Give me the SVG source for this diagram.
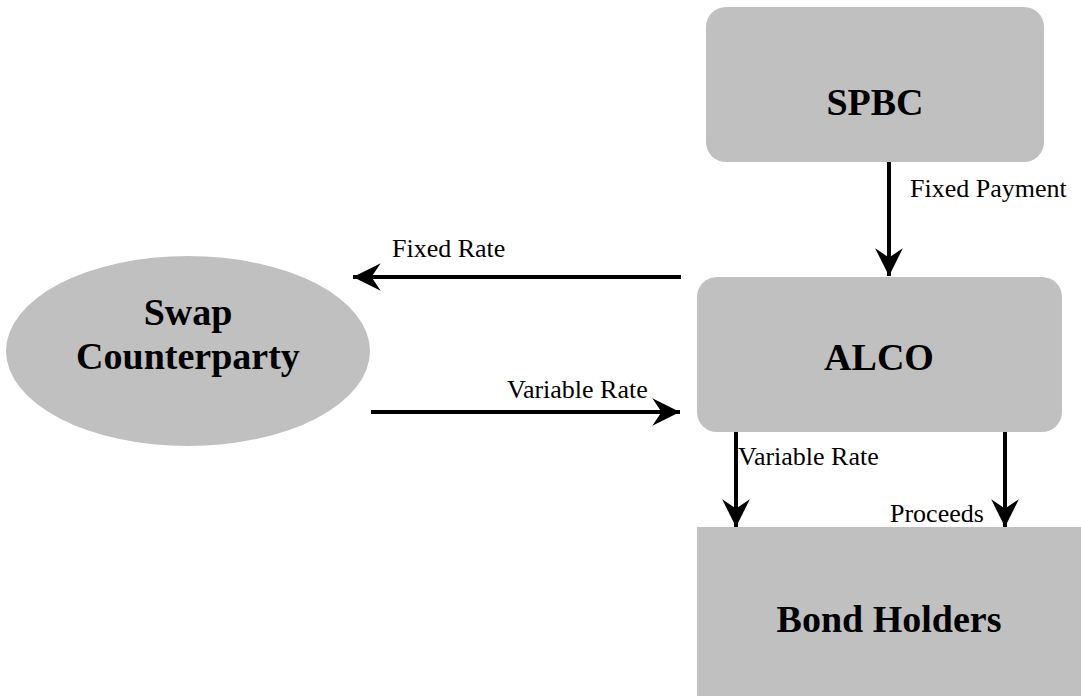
<svg xmlns="http://www.w3.org/2000/svg" width="1081" height="696" viewBox="0 0 1081 696">
<style>
.node{fill:#c0c0c0}
.big{font-family:"Liberation Serif",serif;font-weight:bold;font-size:38px;fill:#000;text-anchor:middle}
.lbl{font-family:"Liberation Serif",serif;font-size:26px;fill:#000}
.conn{stroke:#000;stroke-width:4;fill:none;marker-end:url(#ah)}
</style>
<defs>
<marker id="ah" markerUnits="userSpaceOnUse" markerWidth="30" markerHeight="30" viewBox="-24 -13 26 26" refX="0" refY="0" orient="auto">
<path d="M0,0 L-24,-12 L-16,0 L-24,12 Z" fill="#000"/>
</marker>
</defs>
<rect width="1081" height="696" fill="#fff"/>
<g id="spbc"><rect class="node" x="706" y="7" width="338" height="155" rx="20"/><text class="big" x="875" y="115">SPBC</text></g>
<g id="alco"><rect class="node" x="697" y="277" width="365" height="155" rx="20"/><text class="big" x="879" y="370">ALCO</text></g>
<g id="bond"><rect class="node" x="697" y="527" width="384" height="169"/><text class="big" x="889" y="632">Bond Holders</text></g>
<g id="swap"><ellipse class="node" cx="188" cy="351" rx="182" ry="95"/><text class="big" x="188" y="325">Swap</text><text class="big" x="188" y="369">Counterparty</text></g>
<g id="connectors">
<line class="conn" x1="889" y1="162" x2="889" y2="276"/>
<line class="conn" x1="681" y1="277" x2="353" y2="277"/>
<line class="conn" x1="371" y1="412" x2="680" y2="412"/>
<line class="conn" x1="736" y1="432" x2="736" y2="527"/>
<line class="conn" x1="1005" y1="432" x2="1005" y2="527"/>
<text class="lbl" x="910" y="197">Fixed Payment</text>
<text class="lbl" x="392" y="257">Fixed Rate</text>
<text class="lbl" x="507" y="398">Variable Rate</text>
<text class="lbl" x="738" y="465">Variable Rate</text>
<text class="lbl" x="890" y="522">Proceeds</text>
</g>
</svg>
